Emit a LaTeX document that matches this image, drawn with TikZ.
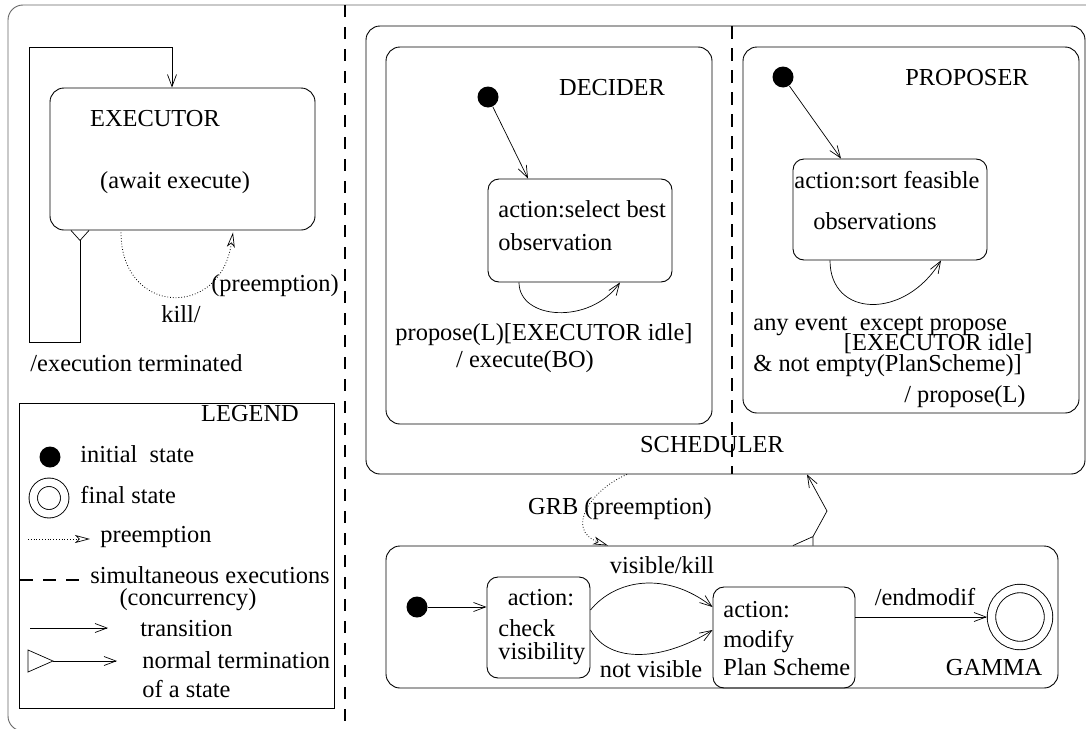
\documentclass[tikz,border=0pt]{standalone}
\usepackage{fontspec}
\setmainfont{Liberation Serif}
\usetikzlibrary{arrows.meta,calc}
\begin{document}
\begin{tikzpicture}[x=1pt,y=-1pt,
  font=\fontsize{24.4}{29}\selectfont,
  line width=0.9pt,
  lab/.style={inner sep=0pt, text height=16pt, text depth=5pt},
  trans/.style={-{Straight Barb[length=12pt,width=9pt]}, line width=0.7pt},
  preempt/.style={dotted, line width=0.8pt, -{Stealth[open,length=15pt,width=8pt,inset=4pt,line width=0.7pt]}},
  statebox/.style={draw, rounded corners=14pt, line width=0.9pt, inner sep=0pt},
  smallbox/.style={draw, rounded corners=11pt, line width=0.9pt, inner sep=0pt},
  initst/.style={circle, fill=black, inner sep=0pt, minimum size=21pt},
  finalst/.style={circle, draw, double, double distance=7.5pt, line width=0.9pt, inner sep=0pt, outer sep=4.5pt},
  bigdash/.style={dash pattern=on 12pt off 10pt, line width=1.8pt},
  termline/.style={line width=0.7pt}]
\useasboundingbox (0,0) rectangle (1086,728);
\clip (0,0) rectangle (1086,728);

% outer frame and main concurrency line
\draw[gray!80!black, rounded corners=15pt] (8,5) rectangle (1110,731);
\draw[bigdash] (345,5) -- (345,728);

% ---------------- EXECUTOR ----------------
\node[statebox, minimum width=265pt, minimum height=142pt] (exec) at (182.5,159) {};
\node[lab] (execT) at (155,121) {EXECUTOR};
\node[lab] (execA) at (175,183) {(await execute)};
\coordinate (etA) at ($(exec.south)+(-102.5,10)$);
\draw[termline] ($(exec.south)+(-111.5,0)$) -- (etA) -- ($(exec.south)+(-93.5,0)$);
\draw[trans] (etA) -- (80,342) -- (29,342) -- (29,47) -- (172,47) -- ($(exec.north)+(-10.5,0)$);
\draw[preempt] ($(exec.south)+(-61.5,2)$) .. controls (121,315) and (220,320) .. ($(exec.south)+(50.5,2)$);
\node[lab] (preT) at (275,286) {(preemption)};
\node[lab] (killT) at (181,317) {kill/};
\node[lab, anchor=west] (termT) at (30,366) {/execution terminated};

% ---------------- LEGEND ----------------
\node[draw, line width=0.9pt, minimum width=315pt, minimum height=305pt, inner sep=0pt] (legend) at (176.5,555.5) {};
\node[lab] (legT) at (250,416) {LEGEND};
\node[initst] (lInit) at (50,457) {};
\node[lab, anchor=west] (lInitT) at (80,457) {initial~~state};
\node[finalst, minimum size=31.5pt] (lFin) at (49,498) {};
\node[lab, anchor=west] (lFinT) at (80,498) {final state};
\coordinate (lp1) at (28,539);
\coordinate (lp2) at (90,539);
\draw[preempt] (lp1) -- (lp2);
\node[lab, anchor=west] (lpT) at (100,537) {preemption};
\coordinate (ld1) at (20,580);
\coordinate (ld2) at (82,580);
\draw[dash pattern=on 13pt off 10pt, line width=1.8pt] (ld1) -- (ld2);
\node[lab, anchor=west] (ldT) at (90,578) {simultaneous executions};
\node[lab] (ldT2) at (188,600) {(concurrency)};
\coordinate (lt1) at (30,628);
\coordinate (lt2) at (108,628);
\draw[trans] (lt1) -- (lt2);
\node[lab, anchor=west] (ltT) at (140,631) {transition};
\coordinate (ln1) at (53,661);
\coordinate (ln2) at (117,661);
\draw[termline] (28,650) -- (ln1) -- (28,672) -- cycle;
\draw[trans] (ln1) -- (ln2);
\node[lab, anchor=west] (lnT) at (142,663) {normal termination};
\node[lab, anchor=west] (lnT2) at (142,692) {of a state};

% ---------------- SCHEDULER ----------------
\node[statebox, minimum width=719pt, minimum height=448pt] (sched) at (725.5,250) {};
\draw[dash pattern=on 13pt off 9pt, line width=1.5pt] (732,26) -- (732,474);
\node[lab] (schedT) at (712,447) {SCHEDULER};

% DECIDER
\node[statebox, minimum width=326pt, minimum height=377pt] (decider) at (549,235.5) {};
\node[lab] (decT) at (612,90) {DECIDER};
\node[initst] (d0) at (488,97) {};
\node[smallbox, minimum width=184pt, minimum height=103pt] (selbox) at (580,230.5) {};
\node[lab, anchor=west] (selT1) at (498,212) {action:select best};
\node[lab, anchor=west] (selT2) at (498,245) {observation};
\draw[trans] (d0) -- ($(selbox.north)+(-52,0)$);
\draw[trans] ($(selbox.south)+(-61,0)$) .. controls (519,320) and (590,325) .. ($(selbox.south)+(40,0)$);
\node[lab] (decL1) at (544,335) {propose(L)[EXECUTOR idle]};
\node[lab] (decL2) at (525,362) {/ execute(BO)};

% PROPOSER
\node[statebox, minimum width=336pt, minimum height=366pt] (proposer) at (911,230) {};
\node[lab] (propT) at (967,80) {PROPOSER};
\node[initst] (p0) at (783,77) {};
\node[smallbox, minimum width=194pt, minimum height=101pt] (sortbox) at (890,209.5) {};
\node[lab, anchor=west] (sortT1) at (794,183) {action:sort feasible};
\node[lab] (sortT2) at (875,224) {observations};
\draw[trans] (p0) -- ($(sortbox.north)+(-49,0)$);
\draw[trans] ($(sortbox.south)+(-60,0)$) .. controls (830,318) and (905,320) .. ($(sortbox.south)+(51,0)$);
\node[lab, anchor=west] (propL1) at (753,325) {any event~~except propose};
\node[lab, anchor=east] (propL2) at (1033,345) {[EXECUTOR idle]};
\node[lab, anchor=west] (propL3) at (753,366) {\& not empty(PlanScheme)]};
\node[lab, anchor=east] (propL4) at (1026,397) {/ propose(L)};

% ---------------- GAMMA ----------------
\node[statebox, minimum width=672pt, minimum height=142pt] (gamma) at (722,617) {};
\node[lab] (gamT) at (994,670) {GAMMA};
\node[initst] (g0) at (417,607) {};
\node[smallbox, minimum width=103pt, minimum height=101pt] (checkbox) at (538.5,627.5) {};
\node[lab] (chkT1) at (541,600) {action:};
\node[lab, anchor=west] (chkT2) at (498,631) {check};
\node[lab, anchor=west] (chkT3) at (498,654) {visibility};
\node[smallbox, minimum width=142pt, minimum height=101pt] (modbox) at (784,637.5) {};
\node[lab, anchor=west] (modT1) at (723,612) {action:};
\node[lab, anchor=west] (modT2) at (723,642) {modify};
\node[lab, anchor=west] (modT3) at (723,670) {Plan Scheme};
\node[finalst, minimum size=57pt] (gfin) at (1020,617) {};
\draw[trans] (g0) -- (g0 -| checkbox.west);
\draw[trans] ($(checkbox.east)+(0,-17.5)$) .. controls (615,580) and (665,570) .. ($(modbox.west)+(0,-30.5)$);
\draw[trans] ($(checkbox.east)+(0,2.5)$) .. controls (610,665) and (665,660) .. ($(modbox.west)+(0,-7.5)$);
\draw[trans] (gfin.west -| modbox.east) -- (gfin.west);
\node[lab] (visT) at (662,568) {visible/kill};
\node[lab] (nvisT) at (651,672) {not visible};
\node[lab] (endT) at (925,600) {/endmodif};

% GRB preemption and normal termination of GAMMA
\draw[preempt] ($(sched.south)+(-98.5,0)$) .. controls (590,490) and (565,530) .. ($(gamma.north)+(-114,0)$);
\node[lab] (grbT) at (620,509) {GRB (preemption)};
\coordinate (gtA) at ($(gamma.north)+(91,-9)$);
\draw[termline] ($(gamma.north)+(71,0)$) -- (gtA) -- ($(gamma.north)+(91,0)$);
\draw[trans] (gtA) -- (827,511) -- ($(sched.south)+(81.5,0)$);
\end{tikzpicture}
\end{document}
